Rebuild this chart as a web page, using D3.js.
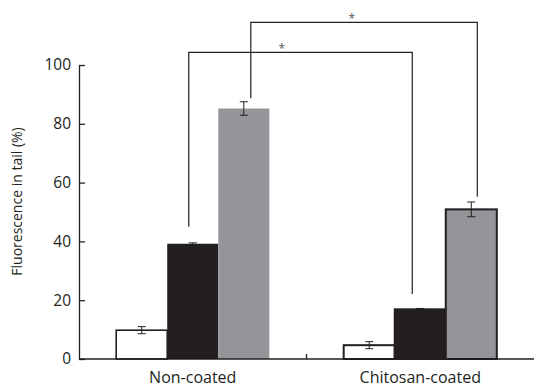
<!DOCTYPE html>
<html><head><meta charset="utf-8">
<script src="https://cdn.jsdelivr.net/npm/d3@7"></script>
<style>body{margin:0;background:#fff}svg{display:block}</style>
</head><body>
<svg id="chart" width="534" height="388"></svg>
<script>
const categories = ["Non-coated", "Chitosan-coated"];
const seriesNames = ["control", "treatment1", "treatment2"];
const whiteValues = [9.8, 4.7];
const blackValues = [39.2, 16.9];
const greyValues = [85.2, 50.9];
const whiteErrors = [1.2, 1.2];
const blackErrors = [0.3, 0.3];
const greyErrors = [2.3, 2.5];
const yTicks = [0, 20, 40, 60, 80, 100];
const yLabel = "Fluorescence in tail (%)";
// significance brackets
const brackets = [
  {a: 0, sa: 1, b: 1, sb: 1, y1: 45, y2: 22.1, top: 104.3, label: "*"},
  {a: 0, sa: 2, b: 1, sb: 2, y1: 88.7, y2: 55.2, top: 114.5, label: "*"}
];

const svg = d3.select("#chart");
const font = "'Open Sans', sans-serif";
const ink = "#231f20";
const fills = ["#ffffff", "#231f20", "#939598"];

const x0 = d3.scaleBand().domain(categories).range([79, 534]).paddingInner(0.327).paddingOuter(0.1635);
const x1 = d3.scaleBand().domain(seriesNames).range([0, x0.bandwidth()]);
const y = d3.scaleLinear().domain([0, 100]).range([359, 65]);

const rows = [];
categories.forEach((c, i) => {
  const vals = [whiteValues[i], blackValues[i], greyValues[i]];
  const errs = [whiteErrors[i], blackErrors[i], greyErrors[i]];
  seriesNames.forEach((s, j) => rows.push({c, ci: i, s, j, v: vals[j], e: errs[j]}));
});

// bars
svg.append("g").selectAll("rect").data(rows).join("rect")
  .attr("x", d => x0(d.c) + x1(d.s))
  .attr("y", d => y(d.v))
  .attr("width", x1.bandwidth())
  .attr("height", d => y(0) - y(d.v))
  .attr("fill", d => fills[d.j])
  .attr("stroke", d => (d.j === 0 || d.ci === 1) ? ink : "none")
  .attr("stroke-width", d => d.ci === 1 ? 2 : 1.6);

// error bars
const eg = svg.append("g").attr("stroke", ink).attr("stroke-width", 1).attr("fill", "none");
rows.forEach(d => {
  const cx = x0(d.c) + x1(d.s) + x1.bandwidth() / 2;
  eg.append("line").attr("x1", cx).attr("x2", cx).attr("y1", y(d.v + d.e)).attr("y2", y(d.v - d.e));
  eg.append("line").attr("x1", cx - 4).attr("x2", cx + 4).attr("y1", y(d.v + d.e)).attr("y2", y(d.v + d.e));
  eg.append("line").attr("x1", cx - 4).attr("x2", cx + 4).attr("y1", y(d.v - d.e)).attr("y2", y(d.v - d.e));
});

// y axis
const yAxis = d3.axisLeft(y).tickValues(yTicks).tickSizeInner(-6).tickSizeOuter(0).tickPadding(8);
const yg = svg.append("g").attr("transform", "translate(79,0)").call(yAxis);
yg.selectAll("path,line").attr("stroke", ink).attr("stroke-width", 1.3);
yg.selectAll("text").attr("font-family", font).attr("font-size", 15.5).attr("fill", ink);

// x axis
const midX = (x0(categories[0]) + x0.bandwidth() + x0(categories[1])) / 2;
const xg = svg.append("g");
xg.append("line").attr("x1", 79).attr("x2", 534).attr("y1", y(0)).attr("y2", y(0))
  .attr("stroke", ink).attr("stroke-width", 1.3);
xg.append("line").attr("x1", midX).attr("x2", midX)
  .attr("y1", y(0)).attr("y2", y(0) - 5).attr("stroke", ink).attr("stroke-width", 1.3);
xg.selectAll("text").data(categories).join("text")
  .attr("x", d => x0(d) + x0.bandwidth() / 2)
  .attr("y", 383)
  .attr("text-anchor", "middle")
  .attr("font-family", font).attr("font-size", 16).attr("fill", ink)
  .text(d => d);

// y label
svg.append("text").attr("transform", "translate(22,201.5) rotate(-90)")
  .attr("text-anchor", "middle").attr("font-family", font).attr("font-size", 14).attr("fill", ink)
  .text(yLabel);

// brackets
const offsets = [[-4, -8], [7, 6]];
brackets.forEach((b, k) => {
  const xa = x0(categories[b.a]) + x1(seriesNames[b.sa]) + x1.bandwidth() / 2 + offsets[k][0];
  const xb = x0(categories[b.b]) + x1(seriesNames[b.sb]) + x1.bandwidth() / 2 + offsets[k][1];
  svg.append("path")
    .attr("d", `M${xa},${y(b.y1)}V${y(b.top)}H${xb}V${y(b.y2)}`)
    .attr("fill", "none").attr("stroke", ink).attr("stroke-width", 1.2);
  svg.append("text").attr("x", k === 0 ? xa + 93 : xa + 101).attr("y", y(b.top) + 1)
    .attr("text-anchor", "middle").attr("font-family", font).attr("font-size", 12).attr("fill", "#555")
    .text(b.label);
});
</script>
</body></html>
